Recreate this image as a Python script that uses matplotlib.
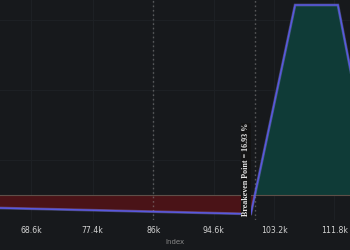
import numpy as np
import matplotlib.pyplot as plt

# payoff profile (price, P&L)
prices = [63000, 99900, 106200, 112300, 116000]
pnl = [-256, -380, 3800, 3800, 1120]

current_price = 86000
breakeven = 100560
breakeven_pct = 16.93

xtick_vals = [68600, 77400, 86000, 94600, 103200, 111800]
xtick_labels = ["68.6k", "77.4k", "86k", "94.6k", "103.2k", "111.8k"]
ygrid_vals = [700, 2100, 3500]

BG = "#17191c"

fig = plt.figure(figsize=(3.5, 2.5), dpi=100, facecolor=BG)
ax = fig.add_axes([0.0, 0.12, 1.0, 0.88])
ax.set_facecolor(BG)

x = np.array(prices, dtype=float)
y = np.array(pnl, dtype=float)
# densify so fill_between splits cleanly at zero
xs = np.linspace(x.min(), x.max(), 2000)
ys = np.interp(xs, x, y)

ax.fill_between(xs, 0, ys, where=ys < 0, interpolate=True, color="#4a1317", lw=0)
ax.fill_between(xs, 0, ys, where=ys > 0, interpolate=True, color="#0f3b37", lw=0)

ax.axhline(0, color="#5e4f48", lw=0.8, zorder=2)

ax.plot(x, y, color="#9a9aff", lw=2.0, alpha=0.35, solid_joinstyle="miter", zorder=3)
ax.plot(x, y, color="#5858e0", lw=1.1, solid_joinstyle="miter", zorder=4)

ax.axvline(current_price, color="#8a8a8a", lw=1.0, ls=(0, (1.2, 2)), alpha=0.55, zorder=2)
ax.axvline(breakeven, color="#8a8a8a", lw=1.0, ls=(0, (1.2, 2)), alpha=0.55, zorder=2)

ax.text(breakeven - 1350, -430, f"Breakeven Point = {breakeven_pct} %",
        rotation=90, ha="center", va="bottom", fontsize=5.8, fontweight="bold",
        family="Liberation Serif", color="#e6e6e6", zorder=5,
        bbox=dict(facecolor="#141414", edgecolor="none", pad=0.5))

ax.set_xlim(64190, 114020)
ax.set_ylim(-500, 3900)

ax.set_xticks(xtick_vals)
ax.set_xticklabels(xtick_labels)
ax.set_yticks(ygrid_vals)
ax.tick_params(axis="x", length=0, pad=4, labelsize=5.6, labelcolor="#d2d2d2")
ax.tick_params(axis="y", length=0, labelleft=False)
ax.grid(True, color="#1d2024", lw=0.8, zorder=0)
ax.set_axisbelow(True)

ax.set_xlabel("Index", fontsize=5, color="#8a8a8a", labelpad=3)

for s in ax.spines.values():
    s.set_visible(False)

fig.savefig("out.png", dpi=100, facecolor=BG)
